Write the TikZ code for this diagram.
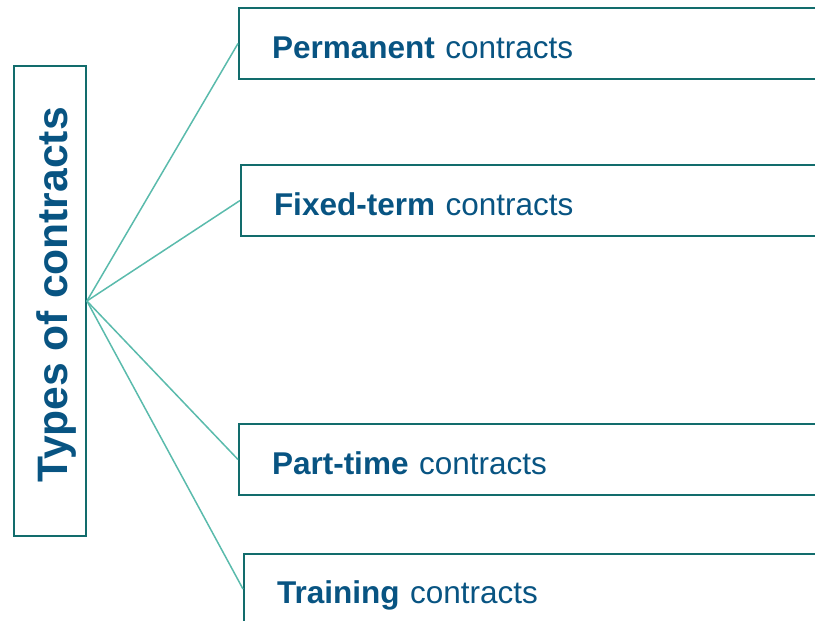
\documentclass[tikz,border=0pt]{standalone}
\usepackage{fontspec}
\setmainfont{Liberation Sans}
\usetikzlibrary{arrows}

\definecolor{textblue}{RGB}{8,84,130}
\definecolor{boxteal}{RGB}{18,108,108}
\definecolor{lineteal}{RGB}{90,187,172}

\begin{document}
\begin{tikzpicture}[-,x=1pt,y=-1pt,
                    title node/.style={draw=boxteal,line width=1.8pt,inner sep=0pt,
                      minimum width=72pt,minimum height=470pt},
                    title text/.style={rotate=90,inner sep=0pt,text height=44pt,text depth=10pt,
                      text=textblue,font=\bfseries\fontsize{42.6}{48}\selectfont},
                    type node/.style={draw=boxteal,line width=2pt,anchor=west,
                      minimum width=640pt,minimum height=71pt,text width=574pt,inner xsep=33pt,
                      align=left,text height=29pt,text depth=0pt,
                      text=textblue,font=\fontsize{31.5}{36}\selectfont}]

  \useasboundingbox (0,0) rectangle (815,621);

  \node[title node] (0) at (50,301) {};
  \node[title text] (t) at (50,295) {Types of contracts};
  \node[type node] (1) at (238,43.5) {\textbf{Permanent} contracts};
  \node[type node] (2) at (240,200.5) {\textbf{Fixed-term} contracts};
  \node[type node] (3) at (238,459.5) {\textbf{Part-time} contracts};
  \node[type node] (4) at (243,589) {\textbf{Training} contracts};

  \path[every edge/.style={draw=lineteal,line width=1.5pt}]
    (0.east) edge (1.west)
             edge (2.west)
             edge (3.west)
             edge (4.west);
\end{tikzpicture}
\end{document}
